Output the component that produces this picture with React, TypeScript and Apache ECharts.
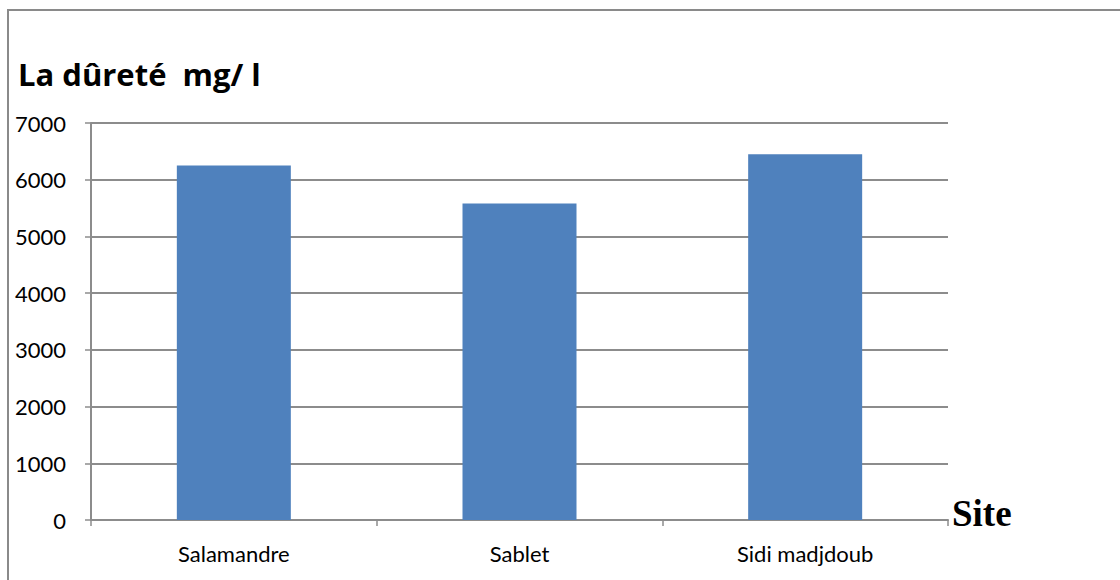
import React, { useEffect, useRef } from "react";
import * as echarts from "echarts";

const sites = ["Salamandre", "Sablet", "Sidi madjdoub"];
const hardness = [6250, 5580, 6450];
const yTicks = { min: 0, max: 7000, interval: 1000 };

export default function App() {
  const ref = useRef<HTMLDivElement>(null);

  useEffect(() => {
    if (!ref.current) return;
    const chart = echarts.init(ref.current, undefined, { renderer: "svg" });
    chart.setOption({
      animation: false,
      backgroundColor: "#ffffff",
      textStyle: { fontFamily: "Lato" },
      graphic: [
        {
          type: "rect",
          shape: { x: 8, y: 10, width: 1300, height: 800 },
          style: { fill: "none", stroke: "#8a8a8a", lineWidth: 2 },
          z: -1,
        },
        {
          type: "text",
          left: 18,
          top: 58,
          style: {
            text: "La dûreté  mg/ l",
            font: "bold 31px 'Open Sans', 'Noto Sans', sans-serif",
            fill: "#000",
          },
        },
        {
          type: "text",
          left: 952,
          top: 495,
          style: {
            text: "Site",
            font: "bold 37px 'Liberation Serif', 'DejaVu Serif', serif",
            fill: "#000",
          },
        },
      ],
      grid: { left: 91, right: 172, top: 123, bottom: 60 },
      xAxis: {
        type: "category",
        data: sites,
        axisLine: { lineStyle: { color: "#8c8c8c", width: 2 } },
        axisTick: { show: true, length: 6, lineStyle: { color: "#8c8c8c", width: 1.5 } },
        axisLabel: { color: "#000", fontSize: 22, margin: 22, fontFamily: "Lato" },
      },
      yAxis: {
        type: "value",
        min: yTicks.min,
        max: yTicks.max,
        interval: yTicks.interval,
        axisLine: { show: true, lineStyle: { color: "#8c8c8c", width: 2 } },
        axisTick: { show: true, length: 6, lineStyle: { color: "#8c8c8c", width: 1.5 } },
        axisLabel: {
          color: "#000",
          fontSize: 22,
          margin: 25,
          fontFamily: "Lato",
          formatter: (v: number) => String(v),
        },
        splitLine: { lineStyle: { color: "#8c8c8c", width: 2 } },
      },
      series: [
        {
          type: "bar",
          data: hardness,
          barWidth: 114,
          itemStyle: { color: "#4f81bd" },
        },
      ],
    });
    return () => chart.dispose();
  }, []);

  return (
    <div
      ref={ref}
      style={{ position: "fixed", left: 0, top: 0, width: 1120, height: 580 }}
    />
  );
}
